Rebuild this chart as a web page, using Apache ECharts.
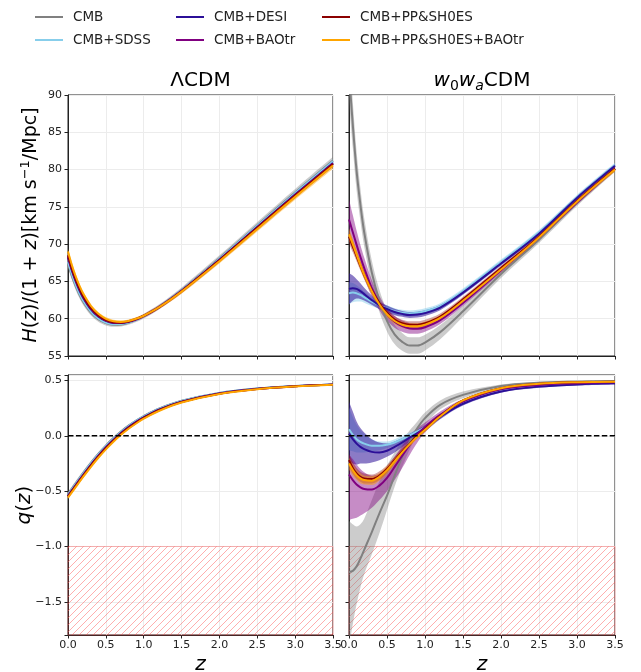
<!DOCTYPE html>
<html>
<head>
<meta charset="utf-8">
<script src="https://cdn.jsdelivr.net/npm/echarts@6/dist/echarts.min.js"></script>
<style>
html, body { margin: 0; padding: 0; background: #fff; }
#chart { width: 641px; height: 672px; }
</style>
</head>
<body>
<div id="chart"></div>
<script>
// Redshift sampling shared by every curve
const zGrid = [0, 0.05, 0.1, 0.15, 0.2, 0.3, 0.4, 0.5, 0.6, 0.7, 0.8, 0.9, 1.0, 1.2, 1.5, 2.0, 2.5, 3.0, 3.5];

// Axis ticks
const zTicks = [0, 0.5, 1.0, 1.5, 2.0, 2.5, 3.0, 3.5];
const hTicks = [55, 60, 65, 70, 75, 80, 85, 90];
const qTicks = [-1.5, -1.0, -0.5, 0.0, 0.5];

// Dataset names (legend order)
const datasetNames = ['CMB', 'CMB+SDSS', 'CMB+DESI', 'CMB+BAOtr', 'CMB+PP&SH0ES', 'CMB+PP&SH0ES+BAOtr'];

// ---- LCDM: H(z)/(1+z) ----
const hLcdmCMB   = [67.40, 65.77, 64.39, 63.24, 62.27, 60.84, 59.93, 59.41, 59.20, 59.24, 59.47, 59.84, 60.33, 61.57, 63.84, 68.11, 72.54, 76.93, 81.20];
const hLcdmSDSS  = [67.60, 65.99, 64.59, 63.42, 62.43, 60.98, 60.04, 59.50, 59.27, 59.29, 59.50, 59.86, 60.34, 61.56, 63.81, 68.05, 72.47, 76.84, 81.10];
const hLcdmDESI  = [68.20, 66.50, 65.06, 63.85, 62.82, 61.29, 60.29, 59.70, 59.43, 59.41, 59.59, 59.92, 60.37, 61.54, 63.74, 67.92, 72.29, 76.64, 80.87];
const hLcdmBAOtr = [68.36, 66.64, 65.19, 63.97, 62.93, 61.38, 60.36, 59.76, 59.47, 59.44, 59.61, 59.93, 60.37, 61.53, 63.71, 67.88, 72.24, 76.58, 80.80];
const hLcdmPP    = [68.52, 66.79, 65.32, 64.09, 63.04, 61.47, 60.43, 59.82, 59.51, 59.47, 59.63, 59.94, 60.38, 61.53, 63.69, 67.84, 72.19, 76.52, 80.74];
const hLcdmPPB   = [69.00, 67.22, 65.72, 64.45, 63.37, 61.74, 60.65, 59.99, 59.65, 59.57, 59.70, 59.99, 60.40, 61.51, 63.63, 67.72, 72.04, 76.34, 80.54];
const hLcdmCMBErr   = [0.55, 0.52, 0.49, 0.46, 0.43, 0.38, 0.34, 0.31, 0.29, 0.28, 0.28, 0.29, 0.30, 0.32, 0.35, 0.39, 0.43, 0.47, 0.51];
const hLcdmSDSSErr  = [0.30, 0.28, 0.27, 0.25, 0.24, 0.21, 0.19, 0.18, 0.17, 0.17, 0.17, 0.17, 0.18, 0.19, 0.21, 0.24, 0.26, 0.29, 0.31];
const hLcdmDESIErr  = [0.28, 0.27, 0.25, 0.24, 0.22, 0.20, 0.18, 0.17, 0.16, 0.16, 0.16, 0.16, 0.17, 0.18, 0.20, 0.22, 0.25, 0.27, 0.30];
const hLcdmBAOtrErr = [0.42, 0.40, 0.38, 0.36, 0.34, 0.30, 0.27, 0.25, 0.23, 0.22, 0.22, 0.23, 0.24, 0.26, 0.29, 0.33, 0.37, 0.41, 0.45];
const hLcdmPPErr    = [0.33, 0.31, 0.30, 0.28, 0.27, 0.24, 0.22, 0.20, 0.19, 0.19, 0.19, 0.19, 0.20, 0.21, 0.23, 0.26, 0.29, 0.32, 0.35];
const hLcdmPPBErr   = [0.38, 0.36, 0.34, 0.32, 0.30, 0.27, 0.25, 0.23, 0.21, 0.21, 0.21, 0.22, 0.23, 0.25, 0.28, 0.32, 0.36, 0.40, 0.44];

// ---- LCDM: q(z) ----
const qLcdmCMB   = [-0.527, -0.479, -0.431, -0.383, -0.336, -0.246, -0.163, -0.088, -0.020, 0.040, 0.093, 0.139, 0.179, 0.246, 0.317, 0.388, 0.428, 0.451, 0.465];
const qLcdmSDSS  = [-0.532, -0.484, -0.436, -0.388, -0.341, -0.251, -0.168, -0.093, -0.025, 0.035, 0.089, 0.135, 0.175, 0.243, 0.315, 0.387, 0.427, 0.450, 0.465];
const qLcdmDESI  = [-0.543, -0.495, -0.448, -0.400, -0.354, -0.264, -0.181, -0.105, -0.037, 0.025, 0.079, 0.126, 0.167, 0.236, 0.309, 0.383, 0.425, 0.449, 0.464];
const qLcdmBAOtr = [-0.546, -0.498, -0.451, -0.403, -0.357, -0.268, -0.184, -0.108, -0.040, 0.021, 0.075, 0.123, 0.164, 0.233, 0.307, 0.382, 0.424, 0.448, 0.463];
const qLcdmPP    = [-0.549, -0.501, -0.454, -0.407, -0.361, -0.271, -0.188, -0.112, -0.043, 0.018, 0.072, 0.120, 0.162, 0.231, 0.306, 0.381, 0.423, 0.448, 0.463];
const qLcdmPPB   = [-0.558, -0.511, -0.464, -0.417, -0.371, -0.282, -0.198, -0.122, -0.053, 0.009, 0.064, 0.112, 0.155, 0.225, 0.301, 0.378, 0.421, 0.446, 0.462];
const qLcdmCMBErr   = [0.022, 0.021, 0.020, 0.019, 0.018, 0.016, 0.014, 0.013, 0.012, 0.011, 0.010, 0.009, 0.008, 0.007, 0.006, 0.005, 0.004, 0.004, 0.003];
const qLcdmSDSSErr  = [0.012, 0.012, 0.011, 0.011, 0.010, 0.009, 0.008, 0.007, 0.007, 0.006, 0.006, 0.005, 0.005, 0.004, 0.004, 0.003, 0.003, 0.002, 0.002];
const qLcdmDESIErr  = [0.011, 0.011, 0.010, 0.010, 0.009, 0.008, 0.007, 0.007, 0.006, 0.006, 0.005, 0.005, 0.004, 0.004, 0.003, 0.003, 0.002, 0.002, 0.002];
const qLcdmBAOtrErr = [0.018, 0.017, 0.016, 0.015, 0.014, 0.013, 0.012, 0.011, 0.010, 0.009, 0.008, 0.007, 0.007, 0.006, 0.005, 0.004, 0.003, 0.003, 0.003];
const qLcdmPPErr    = [0.013, 0.013, 0.012, 0.012, 0.011, 0.010, 0.009, 0.008, 0.007, 0.007, 0.006, 0.006, 0.005, 0.004, 0.004, 0.003, 0.003, 0.002, 0.002];
const qLcdmPPBErr   = [0.016, 0.015, 0.015, 0.014, 0.013, 0.012, 0.011, 0.010, 0.009, 0.008, 0.007, 0.007, 0.006, 0.005, 0.004, 0.004, 0.003, 0.003, 0.003];

// ---- w0waCDM: H(z)/(1+z) ----
const hWCMB   = [93.0, 86.0, 79.8, 75.3, 71.6, 66.2, 62.4, 59.7, 57.9, 56.9, 56.4, 56.4, 56.8, 58.2, 61.0, 66.0, 70.6, 75.5, 80.1];
const hWSDSS  = [63.4, 63.5, 63.4, 63.2, 62.9, 62.3, 61.8, 61.35, 61.0, 60.8, 60.7, 60.8, 61.0, 61.7, 63.7, 67.6, 71.6, 76.3, 80.6];
const hWDESI  = [64.0, 64.1, 64.0, 63.7, 63.3, 62.5, 61.8, 61.3, 60.9, 60.65, 60.5, 60.55, 60.75, 61.5, 63.5, 67.4, 71.4, 76.2, 80.5];
const hWBAOtr = [73.3, 71.6, 69.9, 68.3, 66.8, 64.1, 62.1, 60.6, 59.6, 59.0, 58.7, 58.65, 58.85, 59.8, 62.1, 66.5, 70.9, 75.6, 80.1];
const hWPP    = [71.0, 69.7, 68.4, 67.1, 65.9, 63.8, 62.1, 60.8, 59.9, 59.4, 59.2, 59.2, 59.4, 60.3, 62.6, 66.8, 71.0, 75.8, 80.1];
const hWPPB   = [71.3, 70.0, 68.6, 67.2, 65.9, 63.7, 61.9, 60.6, 59.7, 59.2, 59.0, 59.0, 59.2, 60.1, 62.4, 66.6, 70.9, 75.7, 80.0];
const hWCMBErr   = [3.6, 3.1, 2.6, 2.2, 1.9, 1.6, 1.5, 1.4, 1.3, 1.2, 1.1, 1.1, 1.05, 0.95, 0.75, 0.55, 0.45, 0.4, 0.4];
const hWSDSSErr  = [1.5, 1.3, 1.1, 0.9, 0.75, 0.6, 0.5, 0.45, 0.42, 0.4, 0.4, 0.4, 0.4, 0.38, 0.35, 0.33, 0.3, 0.3, 0.3];
const hWDESIErr  = [2.1, 1.7, 1.3, 1.05, 0.85, 0.62, 0.52, 0.46, 0.42, 0.4, 0.4, 0.4, 0.38, 0.35, 0.3, 0.28, 0.25, 0.25, 0.25];
const hWBAOtrErr = [2.8, 2.3, 1.9, 1.6, 1.4, 1.1, 0.95, 0.85, 0.8, 0.75, 0.7, 0.65, 0.6, 0.5, 0.4, 0.35, 0.3, 0.3, 0.3];
const hWPPErr    = [0.9, 0.8, 0.7, 0.65, 0.6, 0.5, 0.45, 0.45, 0.45, 0.45, 0.45, 0.45, 0.45, 0.4, 0.35, 0.3, 0.3, 0.3, 0.3];
const hWPPBErr   = [0.8, 0.7, 0.65, 0.6, 0.55, 0.5, 0.45, 0.4, 0.4, 0.4, 0.4, 0.4, 0.4, 0.35, 0.3, 0.3, 0.3, 0.3, 0.3];

// ---- w0waCDM: q(z) ----
const qWCMB   = [-1.23, -1.22, -1.18, -1.11, -1.03, -0.87, -0.70, -0.54, -0.36, -0.19, -0.05, 0.07, 0.16, 0.28, 0.37, 0.45, 0.48, 0.49, 0.495];
const qWCMBLo = [-1.90, -1.70, -1.52, -1.37, -1.25, -1.07, -0.88, -0.67, -0.46, -0.28, -0.12, 0.01, 0.10, 0.24, 0.34, 0.43, 0.47, 0.48, 0.485];
const qWCMBHi = [-0.77, -0.80, -0.82, -0.80, -0.75, -0.58, -0.41, -0.27, -0.15, -0.04, 0.05, 0.13, 0.21, 0.32, 0.40, 0.465, 0.49, 0.50, 0.505];
const qWSDSS   = [0.06, 0.01, -0.03, -0.055, -0.07, -0.09, -0.09, -0.08, -0.06, -0.03, 0.005, 0.04, 0.08, 0.18, 0.30, 0.41, 0.45, 0.47, 0.48];
const qWSDSSLo = [-0.13, -0.14, -0.15, -0.15, -0.15, -0.14, -0.13, -0.11, -0.09, -0.06, -0.02, 0.02, 0.06, 0.16, 0.285, 0.40, 0.44, 0.46, 0.47];
const qWSDSSHi = [0.26, 0.17, 0.10, 0.05, 0.02, -0.03, -0.05, -0.05, -0.03, 0.00, 0.03, 0.06, 0.10, 0.20, 0.315, 0.42, 0.46, 0.48, 0.49];
const qWDESI   = [0.02, -0.03, -0.07, -0.10, -0.12, -0.145, -0.15, -0.135, -0.10, -0.06, -0.015, 0.025, 0.07, 0.17, 0.29, 0.40, 0.445, 0.465, 0.475];
const qWDESILo = [-0.23, -0.25, -0.26, -0.25, -0.25, -0.24, -0.22, -0.19, -0.15, -0.10, -0.05, -0.005, 0.04, 0.15, 0.275, 0.39, 0.435, 0.455, 0.465];
const qWDESIHi = [0.31, 0.22, 0.13, 0.07, 0.03, -0.03, -0.06, -0.07, -0.05, -0.02, 0.02, 0.055, 0.095, 0.19, 0.305, 0.41, 0.455, 0.475, 0.485];
const qWBAOtr   = [-0.35, -0.40, -0.44, -0.465, -0.48, -0.485, -0.45, -0.38, -0.28, -0.18, -0.08, 0.01, 0.08, 0.19, 0.31, 0.42, 0.46, 0.475, 0.485];
const qWBAOtrLo = [-0.76, -0.75, -0.74, -0.72, -0.70, -0.65, -0.58, -0.50, -0.40, -0.29, -0.17, -0.06, 0.03, 0.16, 0.29, 0.41, 0.45, 0.465, 0.475];
const qWBAOtrHi = [-0.17, -0.21, -0.26, -0.30, -0.33, -0.36, -0.34, -0.28, -0.19, -0.09, 0.00, 0.07, 0.12, 0.22, 0.33, 0.43, 0.47, 0.485, 0.495];
const qWPP    = [-0.22, -0.29, -0.34, -0.37, -0.385, -0.39, -0.36, -0.30, -0.22, -0.14, -0.07, 0.00, 0.06, 0.18, 0.32, 0.43, 0.47, 0.485, 0.49];
const qWPPErr = [0.06, 0.055, 0.05, 0.045, 0.045, 0.04, 0.04, 0.035, 0.03, 0.03, 0.025, 0.02, 0.02, 0.015, 0.01, 0.01, 0.01, 0.01, 0.01];
const qWPPB    = [-0.25, -0.31, -0.355, -0.385, -0.40, -0.405, -0.37, -0.31, -0.23, -0.15, -0.075, -0.005, 0.055, 0.175, 0.32, 0.43, 0.47, 0.485, 0.49];
const qWPPBErr = [0.055, 0.05, 0.045, 0.045, 0.04, 0.04, 0.035, 0.035, 0.03, 0.025, 0.025, 0.02, 0.02, 0.015, 0.01, 0.01, 0.01, 0.01, 0.01];

// Reference lines
const qZeroLine = [0, 0];
const qHatchTop = -1.0;

// ---- styling ----
const FONT = '"DejaVu Sans", "Liberation Sans", sans-serif';
const lineColor = {
  'CMB': '#808080',
  'CMB+SDSS': '#87ceeb',
  'CMB+DESI': '#2b0f98',
  'CMB+BAOtr': '#800080',
  'CMB+PP&SH0ES': '#8b0000',
  'CMB+PP&SH0ES+BAOtr': '#ffa500'
};
const bandAlpha = {
  'CMB': 0.4, 'CMB+SDSS': 0.5, 'CMB+DESI': 0.55,
  'CMB+BAOtr': 0.45, 'CMB+PP&SH0ES': 0.35, 'CMB+PP&SH0ES+BAOtr': 0.45
};

function symBand(mid, err) {
  return [mid.map((v, i) => v - err[i]), mid.map((v, i) => v + err[i])];
}

// curves per panel: [name, mid, lo, hi]
function withBand(name, mid, err) { const b = symBand(mid, err); return [name, mid, b[0], b[1]]; }
const panelCurves = [
  [ // 0: LCDM, H
    withBand('CMB', hLcdmCMB, hLcdmCMBErr),
    withBand('CMB+SDSS', hLcdmSDSS, hLcdmSDSSErr),
    withBand('CMB+DESI', hLcdmDESI, hLcdmDESIErr),
    withBand('CMB+BAOtr', hLcdmBAOtr, hLcdmBAOtrErr),
    withBand('CMB+PP&SH0ES', hLcdmPP, hLcdmPPErr),
    withBand('CMB+PP&SH0ES+BAOtr', hLcdmPPB, hLcdmPPBErr)
  ],
  [ // 1: w0waCDM, H
    withBand('CMB', hWCMB, hWCMBErr),
    withBand('CMB+SDSS', hWSDSS, hWSDSSErr),
    withBand('CMB+DESI', hWDESI, hWDESIErr),
    withBand('CMB+BAOtr', hWBAOtr, hWBAOtrErr),
    withBand('CMB+PP&SH0ES', hWPP, hWPPErr),
    withBand('CMB+PP&SH0ES+BAOtr', hWPPB, hWPPBErr)
  ],
  [ // 2: LCDM, q
    withBand('CMB', qLcdmCMB, qLcdmCMBErr),
    withBand('CMB+SDSS', qLcdmSDSS, qLcdmSDSSErr),
    withBand('CMB+DESI', qLcdmDESI, qLcdmDESIErr),
    withBand('CMB+BAOtr', qLcdmBAOtr, qLcdmBAOtrErr),
    withBand('CMB+PP&SH0ES', qLcdmPP, qLcdmPPErr),
    withBand('CMB+PP&SH0ES+BAOtr', qLcdmPPB, qLcdmPPBErr)
  ],
  [ // 3: w0waCDM, q
    ['CMB', qWCMB, qWCMBLo, qWCMBHi],
    ['CMB+SDSS', qWSDSS, qWSDSSLo, qWSDSSHi],
    ['CMB+DESI', qWDESI, qWDESILo, qWDESIHi],
    ['CMB+BAOtr', qWBAOtr, qWBAOtrLo, qWBAOtrHi],
    withBand('CMB+PP&SH0ES', qWPP, qWPPErr),
    withBand('CMB+PP&SH0ES+BAOtr', qWPPB, qWPPBErr)
  ]
];

// Diagonal hatch used below q = -1
function hatchPattern() {
  const c = document.createElement('canvas');
  c.width = 7; c.height = 7;
  const ctx = c.getContext('2d');
  ctx.strokeStyle = 'rgba(255, 90, 90, 0.55)';
  ctx.lineWidth = 0.9;
  ctx.beginPath();
  ctx.moveTo(0, 7); ctx.lineTo(7, 0);
  ctx.moveTo(-1, 1); ctx.lineTo(1, -1);
  ctx.moveTo(6, 8); ctx.lineTo(8, 6);
  ctx.stroke();
  return c;
}

const grids = [
  { left: 68, top: 95, width: 265, height: 261 },
  { left: 349, top: 95, width: 266, height: 261 },
  { left: 68, top: 375, width: 265, height: 260 },
  { left: 349, top: 375, width: 266, height: 260 }
].map(g => Object.assign(g, { show: true, borderColor: '#222', borderWidth: 1, backgroundColor: 'transparent', containLabel: false, outerBoundsMode: 'none' }));

const gridLine = { show: true, lineStyle: { color: '#ececec', width: 1 } };
const tickLabel = { fontFamily: FONT, fontSize: 11, color: '#222' };

const xAxes = [0, 1, 2, 3].map(i => ({
  type: 'value', gridIndex: i, min: 0, max: 3.5, interval: 0.5,
  axisLine: { show: true, onZero: false, lineStyle: { color: '#222', width: 1 } },
  axisTick: { show: true, inside: false, length: 3.5, lineStyle: { color: '#222' } },
  axisLabel: Object.assign({ show: i >= 2, margin: 5,
    formatter: v => zTicks.some(t => Math.abs(t - v) < 1e-9) ? v.toFixed(1) : '' }, tickLabel),
  splitLine: gridLine
}));

const yAxes = [0, 1, 2, 3].map(i => {
  const isH = i < 2;
  return {
    type: 'value', gridIndex: i,
    min: isH ? 55 : -1.8, max: isH ? 90 : 0.55,
    interval: isH ? 5 : undefined, splitNumber: 5,
    axisLine: { show: true, onZero: false, lineStyle: { color: '#222', width: 1 } },
    axisTick: { show: true, inside: false, length: 3.5, lineStyle: { color: '#222' } },
    axisLabel: Object.assign({ show: i === 0 || i === 2, margin: 6,
      formatter: v => {
        if (isH) return hTicks.indexOf(Math.round(v)) >= 0 && Math.abs(v - Math.round(v)) < 1e-9 ? String(Math.round(v)) : '';
        return qTicks.some(t => Math.abs(t - v) < 1e-9) ? v.toFixed(1).replace('-', '\u2212') : '';
      } }, tickLabel),
    splitLine: gridLine
  };
});

const series = [];
const smoothVal = 0.35;

// hatched forbidden region in both q panels
[2, 3].forEach(g => {
  series.push({
    type: 'line', name: 'hatch' + g, xAxisIndex: g, yAxisIndex: g,
    data: [[0, qHatchTop]], symbol: 'none', lineStyle: { opacity: 0 }, silent: true,
    markArea: {
      silent: true,
      itemStyle: { color: { image: hatchPattern(), repeat: 'repeat' }, borderColor: 'rgba(255, 60, 60, 0.35)', borderWidth: 1 },
      data: [[{ xAxis: 0, yAxis: qHatchTop }, { xAxis: 3.5, yAxis: -1.8 }]]
    }
  });
});

// Bands are stacked areas: the value column comes first so that it is the stacked dimension.
panelCurves.forEach((curves, g) => {
  curves.forEach(([name, mid, lo, hi]) => {
    const stackId = 'band-' + g + '-' + name;
    series.push({
      type: 'line', name: name + ' lower', xAxisIndex: g, yAxisIndex: g,
      stack: stackId, stackStrategy: 'all', symbol: 'none', smooth: smoothVal, silent: true,
      encode: { x: 1, y: 0 },
      lineStyle: { opacity: 0 }, data: zGrid.map((z, i) => [lo[i], z])
    });
    series.push({
      type: 'line', name: name + ' band', xAxisIndex: g, yAxisIndex: g,
      stack: stackId, stackStrategy: 'all', symbol: 'none', smooth: smoothVal, silent: true,
      encode: { x: 1, y: 0 },
      lineStyle: { opacity: 0 },
      areaStyle: { color: lineColor[name], opacity: bandAlpha[name] },
      data: zGrid.map((z, i) => [hi[i] - lo[i], z])
    });
    series.push({
      type: 'line', name: name, xAxisIndex: g, yAxisIndex: g,
      symbol: 'none', smooth: smoothVal, silent: true,
      itemStyle: { color: lineColor[name] },
      lineStyle: { color: lineColor[name], width: 2 },
      data: zGrid.map((z, i) => [z, mid[i]])
    });
  });
});

// q = 0 reference
[2, 3].forEach(g => {
  series.push({
    type: 'line', name: 'zero' + g, xAxisIndex: g, yAxisIndex: g,
    symbol: 'none', silent: true,
    lineStyle: { color: '#000', width: 1.5, type: [5.5, 2.4] },
    data: [[0, qZeroLine[0]], [3.5, qZeroLine[1]]]
  });
});

// legend: two rows, three columns
const legendPos = [[35, 9], [35, 32], [176, 9], [176, 32], [322, 9], [322, 32]];
const legends = datasetNames.map((n, i) => ({
  data: [n], left: legendPos[i][0], top: legendPos[i][1], padding: 0,
  icon: 'rect', itemWidth: 28, itemHeight: 2, selectedMode: false,
  textStyle: { fontFamily: FONT, fontSize: 13.5, color: '#222', lineHeight: 16, padding: [0, 0, 0, 5] }
}));

const rich = {
  i: { fontFamily: FONT, fontStyle: 'italic', fontSize: 19, fill: '#000' },
  sup: { fontFamily: FONT, fontSize: 13, fill: '#000', padding: [0, 0, 10, 0] },
  w: { fontFamily: FONT, fontStyle: 'italic', fontSize: 20, fill: '#000' },
  s0: { fontFamily: FONT, fontSize: 14, fill: '#000', padding: [10, 0, 0, 0] },
  sa: { fontFamily: FONT, fontStyle: 'italic', fontSize: 14, fill: '#000', padding: [10, 0, 0, 0] },
  n: { fontFamily: FONT, fontSize: 20, fill: '#000' },
  qi: { fontFamily: FONT, fontStyle: 'italic', fontSize: 20, fill: '#000' }
};

const graphic = [
  { type: 'text', x: 200.5, y: 81, silent: true,
    style: { text: 'ΛCDM', fontFamily: FONT, fontSize: 20, fill: '#000', align: 'center', verticalAlign: 'middle' } },
  { type: 'text', x: 482, y: 81, silent: true,
    style: { text: '{w|w}{s0|0}{w|w}{sa|a}{n|CDM}', rich: rich, fontFamily: FONT, fontSize: 20, fill: '#000', align: 'center', verticalAlign: 'middle' } },
  { type: 'text', x: 31, y: 225, rotation: Math.PI / 2, silent: true,
    style: { text: '{i|H}({i|z})/(1 + {i|z})[km s{sup|\u22121}/Mpc]', rich: rich, fontFamily: FONT, fontSize: 19, fill: '#000', align: 'center', verticalAlign: 'middle' } },
  { type: 'text', x: 25, y: 505, rotation: Math.PI / 2, silent: true,
    style: { text: '{qi|q}({qi|z})', rich: rich, fontFamily: FONT, fontSize: 20, fill: '#000', align: 'center', verticalAlign: 'middle' } },
  { type: 'text', x: 200.5, y: 665, silent: true,
    style: { text: 'z', fontFamily: FONT, fontStyle: 'italic', fontSize: 20, fill: '#000', align: 'center', verticalAlign: 'middle' } },
  { type: 'text', x: 482, y: 665, silent: true,
    style: { text: 'z', fontFamily: FONT, fontStyle: 'italic', fontSize: 20, fill: '#000', align: 'center', verticalAlign: 'middle' } }
];

const chart = echarts.init(document.getElementById('chart'), null, { renderer: 'canvas' });
chart.setOption({
  backgroundColor: '#fff',
  animation: false,
  textStyle: { fontFamily: FONT },
  grid: grids,
  xAxis: xAxes,
  yAxis: yAxes,
  legend: legends,
  series: series,
  graphic: graphic
});
</script>
</body>
</html>
